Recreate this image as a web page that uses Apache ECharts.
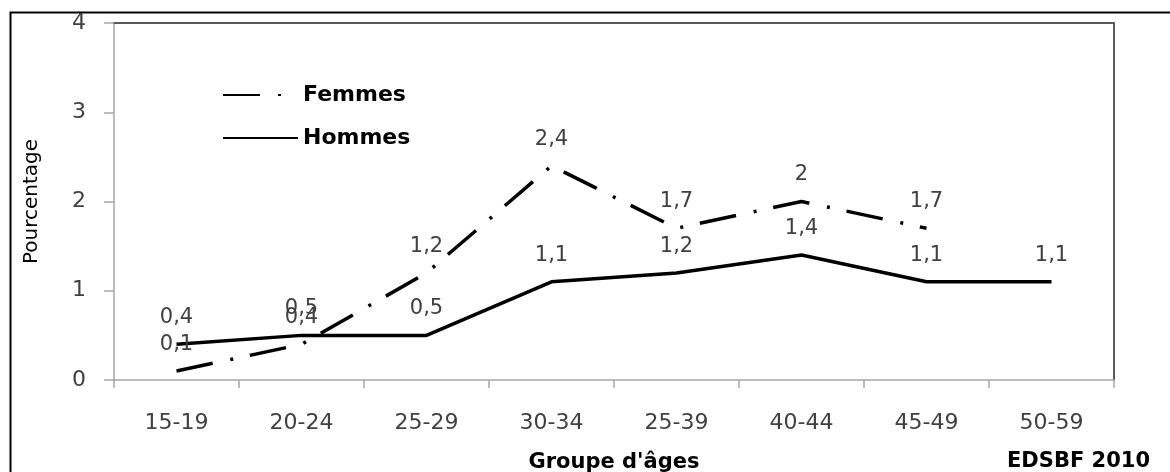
<!DOCTYPE html>
<html>
<head>
<meta charset="utf-8">
<script src="https://cdn.jsdelivr.net/npm/echarts@6/dist/echarts.min.js"></script>
<style>
  html, body { margin: 0; padding: 0; background: #ffffff; }
  #chart { width: 1170px; height: 472px; }
</style>
</head>
<body>
<div id="chart"></div>
<script>
// Age groups on the horizontal axis
const categories = ['15-19', '20-24', '25-29', '30-34', '25-39', '40-44', '45-49', '50-59'];
// Percentages by age group
const femmes = [0.1, 0.4, 1.2, 2.4, 1.7, 2, 1.7, null];
const hommes = [0.4, 0.5, 0.5, 1.1, 1.2, 1.4, 1.1, 1.1];
// Value axis ticks
const yTicks = [0, 1, 2, 3, 4];

const FONT = 'DejaVu Sans';
const LABEL_GREY = '#404040';
const AXIS_GREY = '#a6a6a6';
const FRAME_GREY = '#595959';

const fmt = v => String(v).replace('.', ',');

const chart = echarts.init(document.getElementById('chart'), null, { renderer: 'canvas' });

const dataLabel = {
  show: true,
  position: 'top',
  distance: 15,
  fontFamily: FONT,
  fontSize: 21,
  color: LABEL_GREY,
  formatter: p => fmt(p.value)
};

// invisible point markers, only there to carry the value labels
const hiddenPoint = { color: 'rgba(0,0,0,0)', borderWidth: 0 };

chart.setOption({
  backgroundColor: '#ffffff',
  animation: false,
  title: {
    text: 'EDSBF 2010',
    left: 1007,
    top: 451,
    padding: 0,
    textStyle: { fontFamily: FONT, fontWeight: 'bold', fontSize: 21, color: '#000000' }
  },
  legend: {
    orient: 'vertical',
    left: 222,
    top: 83,
    padding: 0,
    itemWidth: 75,
    itemHeight: 14,
    itemGap: 19,
    itemStyle: { opacity: 0 },
    textStyle: { fontFamily: FONT, fontWeight: 'bold', fontSize: 22, color: '#000000', lineHeight: 24 },
    data: ['Femmes', 'Hommes']
  },
  grid: { left: 114, top: 23, width: 1000, height: 357, outerBoundsMode: 'none', containLabel: false },
  xAxis: [
    {
      type: 'category',
      data: categories,
      boundaryGap: true,
      name: "Groupe d'âges",
      nameLocation: 'middle',
      nameGap: 72,
      nameTextStyle: { fontFamily: FONT, fontWeight: 'bold', fontSize: 21, color: '#000000' },
      axisLine: { show: true, onZero: false, lineStyle: { color: AXIS_GREY, width: 1.5 } },
      axisTick: { show: true, length: 8, interval: 0, lineStyle: { color: AXIS_GREY, width: 1.5 } },
      axisLabel: { interval: 0, margin: 32, fontFamily: FONT, fontSize: 22, color: LABEL_GREY },
      splitLine: { show: false }
    },
    {
      type: 'category',
      data: categories,
      position: 'top',
      axisLine: { show: true, onZero: false, lineStyle: { color: FRAME_GREY, width: 2 } },
      axisTick: { show: false },
      axisLabel: { show: false },
      splitLine: { show: false }
    }
  ],
  yAxis: [
    {
      type: 'value',
      min: yTicks[0],
      max: yTicks[yTicks.length - 1],
      interval: 1,
      name: 'Pourcentage',
      nameLocation: 'middle',
      nameGap: 72,
      nameRotate: 90,
      nameTextStyle: { fontFamily: FONT, fontSize: 20, color: '#000000' },
      axisLine: { show: true, onZero: false, lineStyle: { color: AXIS_GREY, width: 1.5 } },
      axisTick: { show: true, length: 10, lineStyle: { color: AXIS_GREY, width: 1.5 } },
      axisLabel: { margin: 28, padding: [6, 0, 0, 0], fontFamily: FONT, fontSize: 22, color: LABEL_GREY },
      splitLine: { show: false }
    },
    {
      type: 'value',
      position: 'right',
      min: yTicks[0],
      max: yTicks[yTicks.length - 1],
      interval: 1,
      axisLine: { show: true, onZero: false, lineStyle: { color: FRAME_GREY, width: 2 } },
      axisTick: { show: false },
      axisLabel: { show: false },
      splitLine: { show: false }
    }
  ],
  series: [
    {
      name: 'Femmes',
      type: 'line',
      data: femmes,
      symbol: 'circle',
      symbolSize: 2,
      connectNulls: false,
      lineStyle: { color: '#000000', width: 3.5, type: [37, 18, 3, 17], cap: 'butt' },
      itemStyle: hiddenPoint,
      label: dataLabel,
      z: 3
    },
    {
      name: 'Hommes',
      type: 'line',
      data: hommes,
      symbol: 'circle',
      symbolSize: 2,
      lineStyle: { color: '#000000', width: 3.5, type: 'solid' },
      itemStyle: hiddenPoint,
      label: dataLabel,
      z: 2
    }
  ],
  graphic: [
    {
      // outer frame around the figure
      type: 'rect',
      left: 8,
      top: 10,
      shape: { x: 0, y: 0, width: 1200, height: 500 },
      style: { fill: 'none', stroke: '#000000', lineWidth: 2 },
      silent: true
    }
  ]
});
</script>
</body>
</html>
